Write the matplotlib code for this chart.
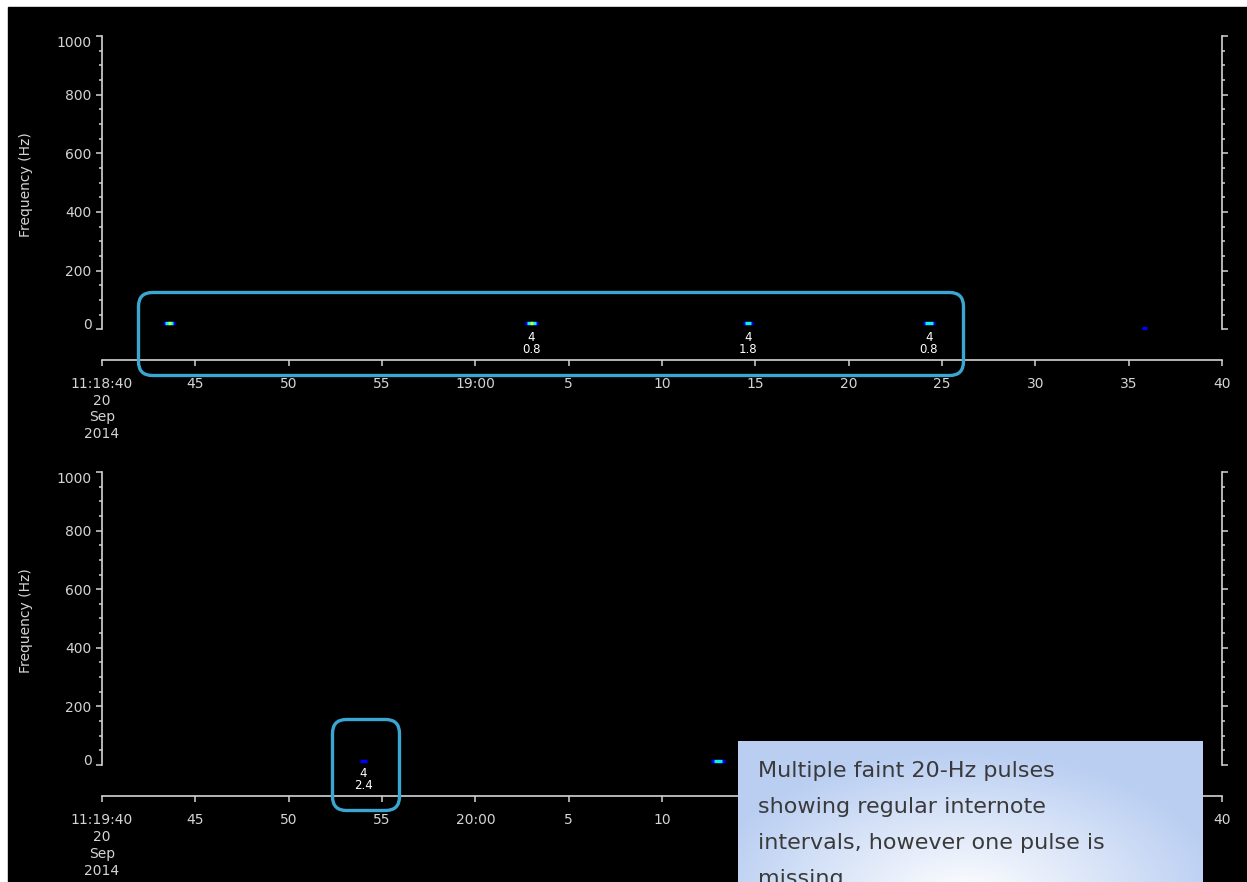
import numpy as np
import matplotlib
matplotlib.use("Agg")
import matplotlib.pyplot as plt
from matplotlib.patches import Rectangle, FancyBboxPatch
from matplotlib.transforms import IdentityTransform

W, H = 1247, 882

# ---------------- data ----------------
panel_start_labels = ["11:18:40\n20\nSep\n2014", "11:19:40\n20\nSep\n2014"]
panel_minute_labels = ["19:00", "20:00"]
tick_seconds = [0, 5, 10, 15, 20, 25, 30, 35, 40, 45, 50, 55, 60]
other_tick_labels = ["45", "50", "55", None, "5", "10", "15", "20", "25", "30", "35", "40"]

# pulses: seconds after panel start, frequency (Hz), duration (s), peak level (0-1)
top_times = [3.6, 23.0, 34.6, 44.3, 55.85]
top_freqs = [20, 20, 20, 20, 5]
top_durs = [0.65, 0.7, 0.5, 0.65, 0.22]
top_peaks = [0.65, 0.7, 0.42, 0.45, 0.15]

bot_times = [14.0, 33.0]
bot_freqs = [15, 15]
bot_durs = [0.35, 0.7]
bot_peaks = [0.15, 0.35]

# annotation labels (time, line1, line2)
top_notes_t = [23.0, 34.6, 44.3]
top_notes_a = ["4", "4", "4"]
top_notes_b = ["0.8", "1.8", "0.8"]
bot_notes_t = [14.0]
bot_notes_a = ["4"]
bot_notes_b = ["2.4"]

callout_lines = ["Multiple faint 20-Hz pulses",
                 "showing regular internote",
                 "intervals, however one pulse is",
                 "missing."]

# ---------------- figure ----------------
fig = plt.figure(figsize=(W / 100, H / 100), dpi=100, facecolor="white")
fig.patches.append(Rectangle((8 / W, 0), (W - 8) / W, (H - 7) / H,
                             transform=fig.transFigure, color="black", zorder=-10))


def px_axes(x0, y0, x1, y1, **kw):
    return fig.add_axes([x0 / W, 1 - y1 / H, (x1 - x0) / W, (y1 - y0) / H], **kw)


FG = "#d4d4d4"
jet = matplotlib.colormaps["jet"]


def draw_panel(ax, ybot, start_label, minute_label, times, freqs, durs, peaks,
               nt, na, nb):
    ax.set_facecolor("none")
    ax.set_xlim(0, 60)
    ax.set_ylim(ybot, 1000)
    ax.spines["top"].set_visible(False)
    for s in ["left", "right", "bottom"]:
        ax.spines[s].set_color(FG)
        ax.spines[s].set_linewidth(1.2)
    ax.spines["left"].set_bounds(0, 1000)
    ax.spines["right"].set_bounds(0, 1000)

    ax.set_yticks(np.arange(0, 1001, 200))
    ax.set_yticks(np.arange(0, 1001, 50), minor=True)
    ax.set_yticklabels([str(v) for v in range(0, 1001, 200)])
    ax.tick_params(axis="y", which="both", left=True, right=True, direction="out",
                   colors=FG, labelsize=10, labelright=False, width=1.1)
    ax.tick_params(axis="y", which="major", length=4.5, pad=3)
    ax.tick_params(axis="y", which="minor", length=2.5)
    labs = ax.get_yticklabels()
    labs[0].set_verticalalignment("baseline")
    labs[-1].set_verticalalignment("top")

    labels = [start_label] + [minute_label if l is None else l for l in other_tick_labels]
    ax.set_xticks(tick_seconds)
    ax.set_xticklabels(labels)
    ax.tick_params(axis="x", which="both", direction="out", colors=FG, labelsize=10,
                   length=4.5, width=1.1, pad=8)
    for t in ax.get_xticklabels():
        t.set_linespacing(1.25)

    ax.set_ylabel("Frequency (Hz)", color=FG, fontsize=10)
    ax.yaxis.set_label_coords(-0.0616, 0.54)

    # pulses as layered spectral blobs
    for t, f, d, p in zip(times, freqs, durs, peaks):
        ax.hlines(f, t - d / 2, t + d / 2, color=jet(0.12), lw=2.4, zorder=3)
        if p > 0.3:
            ax.hlines(f, t - d * 0.32, t + d * 0.32, color=jet(0.36), lw=2.4, zorder=4)
        if p > 0.6:
            ax.hlines(f, t - d * 0.14, t + d * 0.14, color=jet(0.58), lw=2.4, zorder=5)

    for t, a, b in zip(nt, na, nb):
        ax.text(t, -28, a, color="white", fontsize=8.5, ha="center", va="center")
        ax.text(t, -69, b, color="white", fontsize=8.5, ha="center", va="center")


ax1 = px_axes(102, 36, 1222, 359.5)
draw_panel(ax1, -103, panel_start_labels[0], panel_minute_labels[0],
           top_times, top_freqs, top_durs, top_peaks, top_notes_t, top_notes_a, top_notes_b)

ax2 = px_axes(102, 472, 1222, 796)
draw_panel(ax2, -106, panel_start_labels[1], panel_minute_labels[1],
           bot_times, bot_freqs, bot_durs, bot_peaks, bot_notes_t, bot_notes_a, bot_notes_b)

# highlight boxes (pixel coords, origin bottom-left)
BOXC = "#3aa6d2"
for (x0, y0, x1, y1) in [(138.5, 292.5, 963.5, 375.5), (332.5, 719.5, 399.5, 810.5)]:
    bb = FancyBboxPatch((x0, H - y1), x1 - x0, y1 - y0,
                        boxstyle="round,pad=0,rounding_size=14",
                        fill=False, ec=BOXC, lw=2.4, transform=IdentityTransform(),
                        zorder=20)
    fig.patches.append(bb)

# callout box with soft radial gradient
axc = px_axes(738, 741, 1203, 882)
axc.set_axis_off()
gx = np.linspace(738, 1203, 200)
gy = np.linspace(741, 882, 80)
GX, GY = np.meshgrid(gx, gy)
r = np.sqrt(((GX - 965) / 260) ** 2 + ((GY - 900) / 150) ** 2)
r = np.clip(r, 0, 1)
edge = np.array([0.73, 0.81, 0.95])
img = (1 - r[..., None]) * np.array([1, 1, 1]) + r[..., None] * edge
axc.imshow(img, extent=(0, 1, 0, 1), origin="upper", aspect="auto")
axc.set_xlim(0, 1)
axc.set_ylim(0, 1)

for i, line in enumerate(callout_lines):
    yb = 777 + 36 * i
    fig.text(758 / W, 1 - yb / H, line, fontsize=16, family="DejaVu Sans",
             color="#3a3a3a", va="baseline", ha="left", zorder=30)

fig.savefig("out.png", dpi=100, facecolor=fig.get_facecolor())
